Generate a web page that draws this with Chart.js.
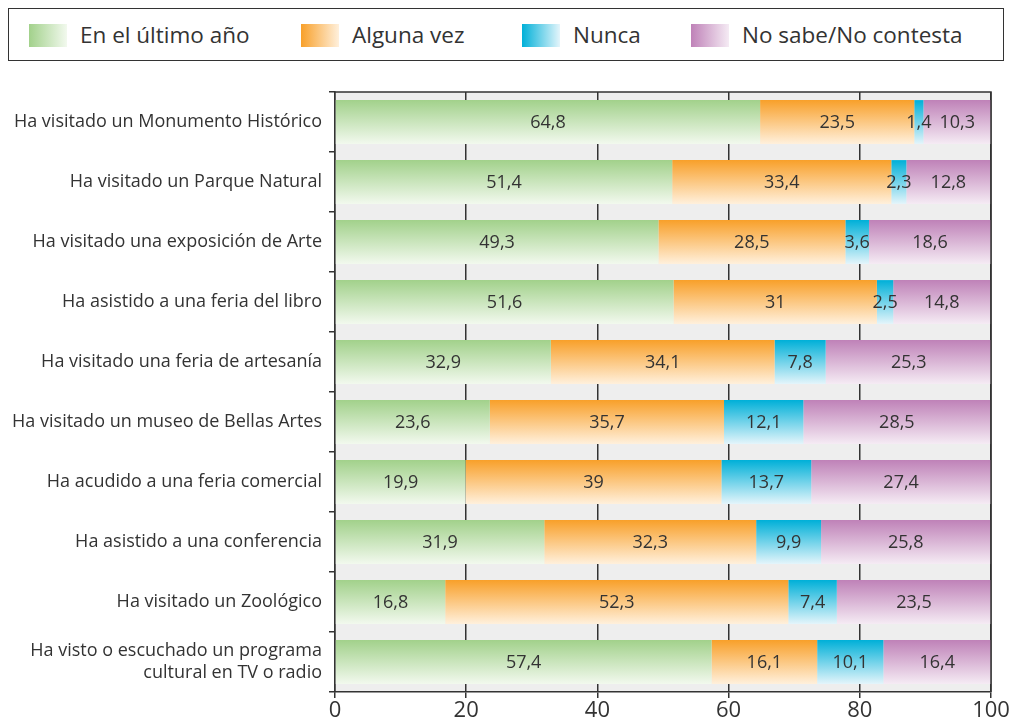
<!DOCTYPE html>
<html>
<head>
<meta charset="utf-8">
<script src="https://cdn.jsdelivr.net/npm/chart.js@4.4.0/dist/chart.umd.min.js"></script>
<style>
  body { margin: 0; background: #fff; font-family: "Open Sans", sans-serif; }
  #wrap { position: relative; width: 1014px; height: 717px; }
  #myChart { position: absolute; left: 0; top: 0; }
  #legend { position: absolute; left: 8px; top: 8px; width: 994px; height: 51px;
            border: 1.5px solid #333; background: #fff; }
  .item { position: absolute; top: 0; height: 51px; }
  .sw { position: absolute; top: 15px; width: 38px; height: 23px; }
  .lbl { position: absolute; top: 0; line-height: 51px; font-size: 22.5px; color: #333; white-space: nowrap; }
</style>
</head>
<body>
<div id="wrap">
  <canvas id="myChart" width="1014" height="717"></canvas>
  <div id="legend"></div>
</div>
<script>
// datos de la encuesta (%)
const categorias = [
    "Ha visitado un Monumento Histórico",
    "Ha visitado un Parque Natural",
    "Ha visitado una exposición de Arte",
    "Ha asistido a una feria del libro",
    "Ha visitado una feria de artesanía",
    "Ha visitado un museo de Bellas Artes",
    "Ha acudido a una feria comercial",
    "Ha asistido a una conferencia",
    "Ha visitado un Zoológico",
    ["Ha visto o escuchado un programa", "cultural en TV o radio"]
];
const ultimoAno = [64.8, 51.4, 49.3, 51.6, 32.9, 23.6, 19.9, 31.9, 16.8, 57.4];
const algunaVez = [23.5, 33.4, 28.5, 31, 34.1, 35.7, 39, 32.3, 52.3, 16.1];
const nunca     = [1.4, 2.3, 3.6, 2.5, 7.8, 12.1, 13.7, 9.9, 7.4, 10.1];
const noSabe    = [10.3, 12.8, 18.6, 14.8, 25.3, 28.5, 27.4, 25.8, 23.5, 16.4];
const seriesNames = ["En el último año", "Alguna vez", "Nunca", "No sabe/No contesta"];

const colores = [
    ["#a2d18b", "#f2f9ee"],
    ["#f8a02a", "#fff0dc"],
    ["#00b0d8", "#e4f5fb"],
    ["#bf82b8", "#f5ebf4"]
];
const legendX = [20, 292, 513, 682];

const catPct = 0.73;

// leyenda en HTML
const legend = document.getElementById("legend");
seriesNames.forEach((name, i) => {
    const item = document.createElement("div");
    item.className = "item";
    item.style.left = legendX[i] + "px";
    const sw = document.createElement("div");
    sw.className = "sw";
    sw.style.left = "0px";
    sw.style.background = "linear-gradient(to right, " + colores[i][0] + ", " + colores[i][1] + ")";
    const lbl = document.createElement("div");
    lbl.className = "lbl";
    lbl.style.left = "51px";
    lbl.textContent = name;
    item.appendChild(sw);
    item.appendChild(lbl);
    legend.appendChild(item);
});

function makeGrad(c, pair) {
    const chart = c.chart;
    const area = chart.chartArea;
    const ys = chart.scales.y;
    if (!area || !ys || c.type !== "data") return pair[0];
    const cy = ys.getPixelForValue(c.dataIndex);
    const h = (area.bottom - area.top) / categorias.length * catPct / 2;
    const g = chart.ctx.createLinearGradient(0, cy - h, 0, cy + h);
    g.addColorStop(0, pair[0]);
    g.addColorStop(1, pair[1]);
    return g;
}

const fondo = {
    id: "fondo",
    beforeDraw(chart) {
        const { ctx, chartArea: a } = chart;
        ctx.save();
        ctx.fillStyle = "#eeeeee";
        ctx.fillRect(a.left, a.top, a.right - a.left, a.bottom - a.top);
        ctx.restore();
    },
    afterDraw(chart) {
        const { ctx, chartArea: a } = chart;
        ctx.save();
        ctx.strokeStyle = "#333";
        ctx.lineWidth = 1.5;
        ctx.beginPath();
        ctx.moveTo(a.left, a.top);
        ctx.lineTo(a.right, a.top);
        ctx.lineTo(a.right, a.bottom);
        ctx.stroke();
        ctx.restore();
    }
};

const etiquetas = {
    id: "etiquetas",
    afterDatasetsDraw(chart) {
        const ctx = chart.ctx;
        ctx.save();
        ctx.font = '18px "Open Sans"';
        ctx.fillStyle = "#333";
        ctx.textAlign = "center";
        ctx.textBaseline = "middle";
        chart.data.datasets.forEach((ds, i) => {
            chart.getDatasetMeta(i).data.forEach((bar, j) => {
                const p = bar.getCenterPoint();
                ctx.fillText(String(ds.data[j]).replace(".", ","), p.x, p.y + 1);
            });
        });
        ctx.restore();
    }
};

const datos = [ultimoAno, algunaVez, nunca, noSabe];

new Chart(document.getElementById("myChart"), {
    type: "bar",
    data: {
        labels: categorias,
        datasets: datos.map((d, i) => ({
            label: seriesNames[i],
            data: d,
            backgroundColor: c => makeGrad(c, colores[i]),
            borderWidth: 0,
            categoryPercentage: catPct,
            barPercentage: 1
        }))
    },
    options: {
        indexAxis: "y",
        responsive: false,
        animation: false,
        layout: { padding: { top: 92, right: 23, left: 0, bottom: 0 } },
        plugins: {
            legend: { display: false },
            tooltip: { enabled: false }
        },
        scales: {
            x: {
                stacked: true,
                min: 0,
                max: 100,
                ticks: { stepSize: 20, color: "#333", font: { family: "Open Sans", size: 22 }, padding: 0 },
                grid: { color: "#333", lineWidth: 1.5, tickLength: 6, drawOnChartArea: true },
                border: { color: "#333", width: 1.5 },
                afterFit: s => { s.height = 25; }
            },
            y: {
                stacked: true,
                ticks: { color: "#333", font: { family: "Open Sans", size: 18 }, padding: 7, autoSkip: false },
                grid: { color: "#333", lineWidth: 1.5, tickLength: 6, drawOnChartArea: false, offset: true },
                border: { color: "#333", width: 1.5 },
                afterFit: s => { s.width = 335; }
            }
        }
    },
    plugins: [fondo, etiquetas]
});
</script>
</body>
</html>
